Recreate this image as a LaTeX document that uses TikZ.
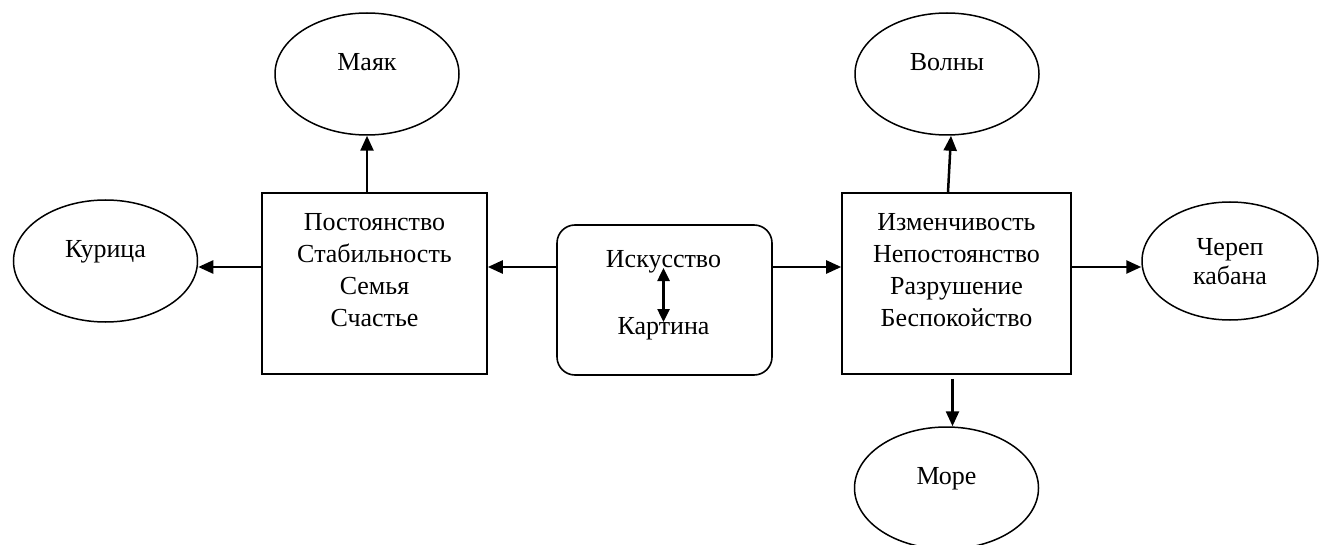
\documentclass[tikz,border=0pt]{standalone}
\usepackage{fontspec}
\setmainfont{Liberation Serif}
\usetikzlibrary{shapes.geometric,arrows.meta,calc}
\begin{document}
\begin{tikzpicture}[x=1pt,y=-1pt,
  every node/.style={font=\fontsize{26}{32}\selectfont},
  oval/.style={ellipse,draw,line width=1.5pt,minimum width=184pt,minimum height=122pt,inner sep=0pt,text depth=24pt},
  box/.style={draw,line width=1.6pt,minimum width=225pt,minimum height=181pt,align=center,text depth=28pt,inner sep=0pt},
  rbox/.style={draw,rounded corners=18pt,line width=1.6pt,minimum width=215pt,minimum height=150pt},
  lbl/.style={inner sep=0pt,anchor=base},
  arr/.style={line width=2.5pt,-{Triangle[length=15pt,width=13pt]}},
  dbl/.style={line width=2.5pt,{Triangle[length=13pt,width=12pt]}-{Triangle[length=13pt,width=12pt]}}]
\useasboundingbox (0,0) rectangle (1319,545);

\node[box] (L) at (374.5,283.5) {Постоянство\\Стабильность\\Семья\\Счастье};
\node[box,minimum width=229pt] (R) at (956.5,283.5) {Изменчивость\\Непостоянство\\Разрушение\\Беспокойство};
\node[rbox] (C) at (664.5,300) {};
\node[lbl] (Isk) at (663.5,268) {Искусство};
\node[lbl] (Kart) at (663.5,334) {Картина};

\node[oval] (Mayak) at (367,74) {Маяк};
\node[oval] (Kur) at (105.5,261) {Курица};
\node[oval] (Volny) at (947,74) {Волны};
\node[oval] (More) at (946.5,488) {Море};
\node[oval,minimum width=176pt,minimum height=118pt,align=center,text depth=0pt,font=\fontsize{26}{29}\selectfont] (Cherep) at (1230,261) {Череп\\кабана};

\draw[arr] (Mayak.south |- L.north) -- (Mayak.south);
\draw[arr] ([yshift=16.5pt]L.west) -- ([yshift=16.5pt]L.west -| Kur.east);
\draw[arr] ([yshift=33pt]C.west) -- ([yshift=33pt]C.west -| L.east);
\draw[arr] ([yshift=33pt]C.east) -- ([yshift=33pt]C.east -| R.west);
\draw[arr] ([yshift=16.5pt]R.east) -- ([yshift=16.5pt]R.east -| Cherep.west);
\draw[arr] ([xshift=1pt]Volny.south |- R.north) -- ([xshift=4pt]Volny.south);
\draw[arr] ([xshift=6pt,yshift=-4pt]More.north |- R.south) -- ([xshift=6pt]More.north);
\draw[dbl] (Isk.base) -- ([yshift=12pt]Kart.base);
\end{tikzpicture}
\end{document}
